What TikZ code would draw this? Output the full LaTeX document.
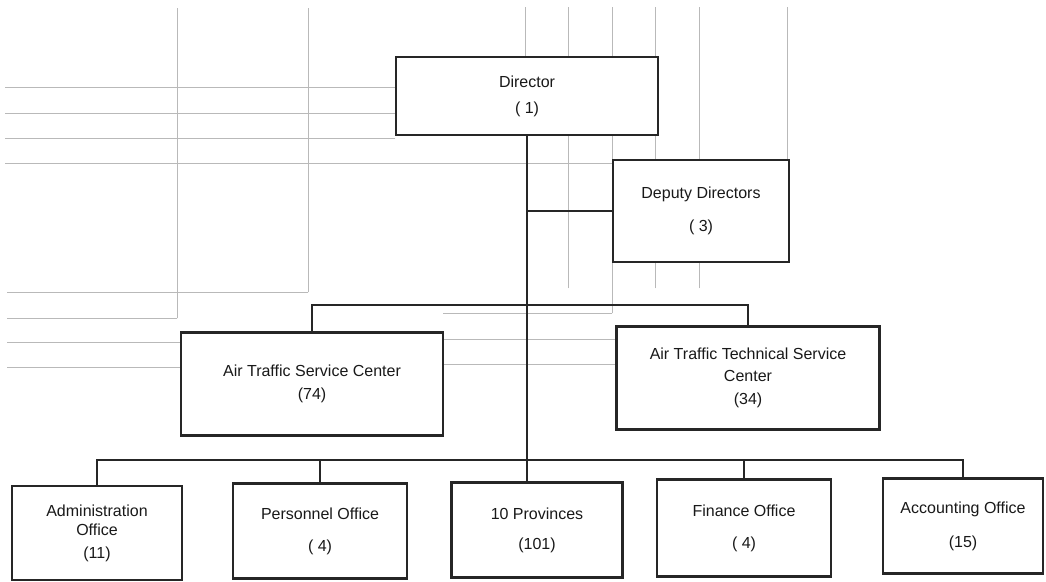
\documentclass[tikz,border=0pt]{standalone}
\usepackage{fontspec}
\setmainfont{Liberation Sans}
\usetikzlibrary{calc, positioning}

\tikzset{
  unit/.style={draw=black!85, fill=white, line width=2.4pt, align=center, inner sep=0pt,
    font=\fontsize{16}{19}\selectfont, text=black!90},
  link/.style={draw=black!85, line width=2.8pt},
  scanline/.style={draw=gray!55, line width=0.7pt}
}

\begin{document}
\begin{tikzpicture}[line cap=rect,line join=miter,x=1pt,y=-1pt]
\useasboundingbox (0,0) rectangle (1046,581);

% Faint ruling from the scan
\foreach \a/\b/\c/\d in {177/8/177/318, 308/8/308/292, 525/7/525/60, 568/7/568/288,
  612/7/612/313, 655/7/655/288, 699/7/699/288, 787/7/787/160,
  5/87/395/87, 5/113/395/113, 5/138/395/138, 5/163/613/163,
  7/292/308/292, 7/318/177/318, 7/342/181/342, 7/367/181/367,
  443/313/612/313, 443/339/617/339, 443/364/617/364}
\draw [scanline] (\a,\b) -- (\c,\d);

% Boxes
\node [unit, minimum width=262, minimum height=78] (director) at (527,96) {Director\\[7pt]( 1)};
\node [unit, minimum width=176, minimum height=102] (deputy) at (701,211) {Deputy Directors\\[14pt]( 3)};
\node [unit, minimum width=262, minimum height=103] (atsc) at (312,384) {Air Traffic Service Center\\[4pt](74)};
\node [unit, minimum width=263, minimum height=103] (attsc) at (748,378) {Air Traffic Technical Service\\[3pt]Center\\[4pt](34)};
\node [unit, minimum width=170, minimum height=94] (admin) at (97,533) {Administration\\Office\\[4pt](11)};
\node [unit, minimum width=174, minimum height=95] (personnel) at (320,531) {Personnel Office\\[13pt]( 4)};
\node [unit, minimum width=171, minimum height=95] (provinces) at (537,530) {10 Provinces\\[11pt](101)};
\node [unit, minimum width=174, minimum height=97] (finance) at (744,528) {Finance Office\\[13pt]( 4)};
\node [unit, minimum width=160, minimum height=95] (accounting) at (963,526) {Accounting Office\\[15pt](15)};

% Bus points
\coordinate (topbus) at (528,305);
\coordinate (lowbus) at (528,460);

% Connectors
\draw [link] (director.south) -- (director.south |- provinces.north);
\draw [link] (director.south |- deputy.west) -- (deputy.west);
\draw [link] (atsc.north) |- (topbus) -| (attsc.north);
\draw [link] (admin.north) |- (lowbus) -| (accounting.north);
\draw [link] (personnel.north) -- (personnel.north |- lowbus);
\draw [link] (finance.north) -- (finance.north |- lowbus);
\end{tikzpicture}
\end{document}
